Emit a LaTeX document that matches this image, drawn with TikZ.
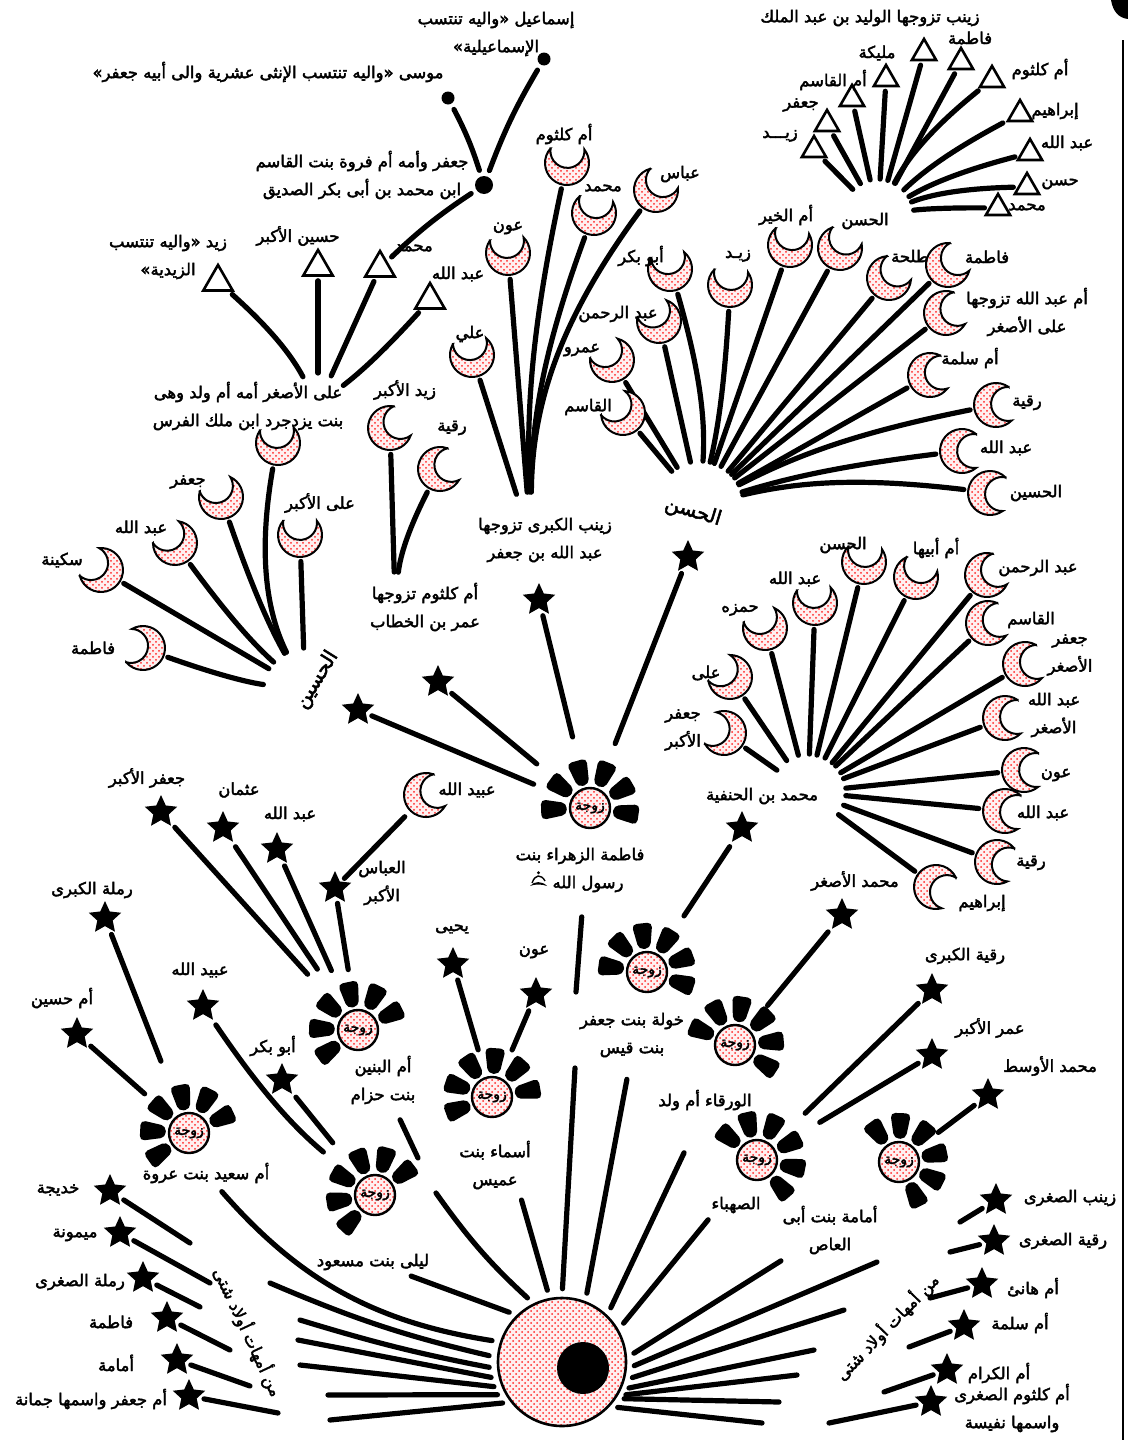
\documentclass[tikz,border=0pt]{standalone}
\usepackage{fontspec}
\newfontfamily\arfont[Script=Arabic, FakeBold=2.5]{DejaVu Sans}
\usetikzlibrary{shapes.geometric,patterns,positioning}
\TeXXeTstate=1
\pgfdeclarelayer{stems}
\pgfsetlayers{stems,main}

\newcommand\nl{\endR\\\beginR}
\newcommand\moonkid[5]{% name, place, horn angle, label place, label
  \node[kid] (#1) at (#2) {};
  \pic[rotate=#3] at (#1) {crescent};
  \node[lbl] (#1-l) at (#4) {#5};}
\newcommand\starkid[4]{% name, place, label place, label
  \node[starkid] (#1) at (#2) {};
  \node[lbl] (#1-l) at (#3) {#4};}
\newcommand\trikid[5][]{% [size], name, place, label place, label
  \node[trikid,#1] (#2) at (#3) {};
  \node[lbl] (#2-l) at (#4) {#5};}
\newcommand\wifenode[5]{% name, place, petal turn, label place, label
  \node[wife] (#1) at (#2) {زوجة};
  \pic[rotate=#3] at (#1) {petals};
  \node[lbl] (#1-l) at (#4) {#5};}

\begin{document}
\begin{tikzpicture}[x=0.5pt, y=-0.5pt,
  lbl/.style={font=\arfont\fontsize{8.2}{14}\selectfont, align=center, inner sep=1pt,
    execute at begin node=\beginR, execute at end node=\endR},
  hubtext/.style={lbl, font=\arfont\fontsize{10}{12}\selectfont},
  stem/.style={line width=2.6pt, line cap=round},
  dotfill/.style={preaction={fill=red!6}, preaction={pattern=crosshatch dots, pattern color=red!85}},
  kid/.style={circle, minimum size=24pt, inner sep=0pt},
  starkid/.style={star, star points=5, star point ratio=2.1, fill, minimum size=17pt, inner sep=0pt},
  trikid/.style={regular polygon, regular polygon sides=3, draw, line width=1.3pt, minimum size=14pt, inner sep=0pt},
  dotkid/.style={circle, fill, inner sep=0pt, minimum size=#1},
  wife/.style={circle, draw, line width=1.2pt, minimum size=20pt, inner sep=0pt, dotfill,
    font=\arfont\fontsize{7}{7}\selectfont},
  alinode/.style={circle, draw, line width=1.3pt, minimum size=64pt, inner sep=0pt, dotfill},
  crescent/.pic={\path[draw, line width=1pt, dotfill] (50:11pt)
      arc[start angle=50, end angle=310, radius=11pt]
      arc[start angle=-83.1, end angle=-276.9, radius=8.5pt] -- cycle;},
  petals/.pic={\fill[rounded corners=2.5pt]
      (-19:12pt) -- (-17:25pt) -- (7:25pt) -- (9:12pt) -- cycle
      (19:12pt) -- (21:25pt) -- (45:25pt) -- (47:12pt) -- cycle
      (57:12pt) -- (59:25pt) -- (83:25pt) -- (85:12pt) -- cycle
      (95:12pt) -- (97:25pt) -- (121:25pt) -- (123:12pt) -- cycle
      (133:12pt) -- (135:25pt) -- (159:25pt) -- (161:12pt) -- cycle
      (171:12pt) -- (173:25pt) -- (197:25pt) -- (199:12pt) -- cycle;}
  ]
\useasboundingbox (0,0) rectangle (1128,1440);

% page edge
\draw[line width=1.2pt] (1123,40) -- (1123,1440);
\fill (1111,0) .. controls (1113,12) and (1119,18) .. (1128,19) -- (1128,0) -- cycle;

% Ali and his wives
\node[alinode] (ali) at (562,1362) {};
\node[dotkid=26pt] (ali-dot) at (583,1368) {};
\wifenode{fatima}{590,808}{-3}{580,856}{فاطمة الزهراء بنت}
\node[lbl] (fatima-l2) at (588,884) {رسول الله};
\begin{scope}[shift={(fatima-l2.west)}] % drawn salla sign, which no font here has
  \fill (-10pt,-1pt) .. controls (-8pt,1.6pt) and (-4pt,1.6pt) .. (-1.5pt,-1pt)
    .. controls (-4pt,0pt) and (-8pt,0pt) .. cycle;
  \draw[line width=0.7pt] (-9pt,0.5pt) .. controls (-7.5pt,5pt) and (-4.5pt,5pt) .. (-2.5pt,1.5pt);
  \fill (-5.8pt,5.6pt) circle (0.8pt);
\end{scope}
\wifenode{khawla}{647,972}{-13}{632,1035}{خولة بنت جعفر\nl بنت قيس}
\wifenode{banin}{358,1030}{31}{383,1080}{أم البنين\nl بنت حزام}
\wifenode{asma}{492,1097}{15}{495,1165}{أسماء بنت\nl عميس}
\wifenode{layla}{375,1195}{42}{373,1262}{ليلى بنت مسعود}
\wifenode{saeed}{189,1133}{30}{206,1173}{أم سعيد بنت عروة}
\wifenode{warqa}{735,1045}{-28}{705,1100}{الورقاء أم ولد}
\wifenode{sahba}{757,1160}{-44}{736,1205}{الصهباء}
\wifenode{umama}{899,1162}{-59}{830,1230}{أمامة بنت أبى\nl العاص}

% children of Fatima
\node[starkid] (husain) at (358,710) {};
\node[starkid] (hasan) at (688,557) {};
\starkid{kulthum}{438,682}{425,607}{أم كلثوم تزوجها\nl عمر بن الخطاب}
\starkid{zaynab}{539,600}{545,540}{زينب الكبرى تزوجها\nl عبد الله بن جعفر}
\node[hubtext, rotate=58] (husain-l) at (317,680) {الحسين};
\node[hubtext, rotate=-17] (hasan-l) at (693,512) {الحسن};
\coordinate (hasan-h) at (700,505);
\coordinate (husain-h) at (305,690);
\coordinate (zaynab-h) at (531,540);
\coordinate (kulthum-h) at (395,600);
\coordinate (zayn-h) at (318,405);
\coordinate (hh-h) at (878,215);
\coordinate (hanaf-h) at (808,792);

% al-Hasan's children
\moonkid{hn-qasim}{623,413}{135}{588,407}{القاسم}
\moonkid{hn-amr}{612,360}{125}{582,350}{عمرو}
\moonkid{hn-abdrahman}{659,321}{120}{618,314}{عبد الرحمن}
\moonkid{hn-abubakr}{670,269}{100}{641,256}{أبو بكر}
\moonkid{hn-zayd}{730,285}{85}{738,256}{زيـد}
\moonkid{hn-umkhayr}{790,245}{80}{786,215}{أم الخير}
\moonkid{hn-hasan}{840,248}{60}{865,221}{الحسن}
\moonkid{hn-talha}{889,278}{45}{910,256}{طلحة}
\moonkid{hn-fatima}{948,265}{35}{987,257}{فاطمة}
\moonkid{hn-umabdallah}{946,313}{20}{1027,312}{أم عبد الله تزوجها\nl على الأصغر}
\moonkid{hn-salama}{930,375}{12}{970,358}{أم سلمة}
\moonkid{hn-ruqayya}{996,405}{5}{1027,403}{رقية}
\moonkid{hn-abdallah}{962,451}{0}{1006,448}{عبد الله}
\moonkid{hn-husain}{990,493}{-5}{1036,493}{الحسين}

% al-Hasan son of al-Hasan
\trikid{hh-zayd}{814,150}{780,136}{زيـــد}
\trikid{hh-jafar}{827,124}{801,105}{جعفر}
\trikid{hh-qasim}{852,99}{833,80}{أم القاسم}
\trikid{hh-malika}{886,79}{877,53}{مليكة}
\trikid{hh-zaynab}{924,53}{870,18}{زينب تزوجها الوليد بن عبد الملك}
\trikid{hh-fatima}{961,62}{970,38}{فاطمة}
\trikid{hh-kulthum}{992,80}{1040,69}{أم كلثوم}
\trikid{hh-ibrahim}{1020,114}{1055,111}{إبراهيم}
\trikid{hh-abdallah}{1030,153}{1067,143}{عبد الله}
\trikid{hh-hasan}{1027,187}{1060,184}{حسن}
\trikid{hh-muhammad}{998,208}{1027,207}{محمد}

% Zaynab's children
\moonkid{zb-ali}{472,355}{100}{470,334}{علي}
\moonkid{zb-awn}{508,253}{95}{508,228}{عون}
\moonkid{zb-kulthum}{567,163}{88}{564,134}{أم كلثوم}
\moonkid{zb-muhammad}{594,213}{80}{603,188}{محمد}
\moonkid{zb-abbas}{656,190}{55}{680,174}{عباس}

% Umm Kulthum's children
\moonkid{uk-zayd}{390,428}{30}{405,390}{زيد الأكبر}
\moonkid{uk-ruqayya}{440,469}{20}{452,428}{رقية}

% al-Husain's children
\moonkid{hs-fatima}{143,648}{170}{93,648}{فاطمة}
\moonkid{hs-sakina}{101,570}{145}{62,560}{سكينة}
\moonkid{hs-abdallah}{175,543}{130}{141,528}{عبد الله}
\moonkid{hs-jafar}{221,497}{115}{188,482}{جعفر}
\moonkid{hs-aliasghar}{278,443}{95}{248,406}{على الأصغر أمه أم ولد وهى\nl بنت يزدجرد ابن ملك الفرس}
\moonkid{hs-aliakbar}{300,535}{90}{320,503}{على الأكبر}

% Ali al-Asghar's children
\trikid[minimum size=17pt]{zn-zayd}{218,282}{168,257}{زيد «واليه تنتسب\nl الزيدية»}
\trikid[minimum size=17pt]{zn-husain}{318,267}{298,236}{حسين الأكبر}
\trikid[minimum size=17pt]{zn-muhammad}{380,268}{414,248}{محمد}
\trikid[minimum size=17pt]{zn-abdallah}{430,300}{458,274}{عبد الله}
\node[dotkid=9pt] (jafar) at (484,185) {};
\node[dotkid=6.5pt] (musa) at (448,98) {};
\node[dotkid=6.5pt] (ismail) at (544,59) {};
\node[lbl] (jafar-l) at (362,175) {جعفر وأمه أم فروة بنت القاسم\nl ابن محمد بن أبى بكر الصديق};
\node[lbl] (musa-l) at (268,72) {موسى «واليه تنتسب الإنثى عشرية والى أبيه جعفر»};
\node[lbl] (ismail-l) at (496,34) {إسماعيل «واليه تنتسب\nl الإسماعيلية»};

% Muhammad ibn al-Hanafiyya
\starkid{hanafiyya}{742,828}{762,796}{محمد بن الحنفية}
\moonkid{mh-ali}{730,677}{140}{706,673}{على}
\moonkid{mh-jafar}{724,733}{160}{683,730}{جعفر\nl الأكبر}
\moonkid{mh-hamza}{765,628}{115}{740,610}{حمزه}
\moonkid{mh-abdallah}{815,603}{95}{795,579}{عبد الله}
\moonkid{mh-hasan}{864,562}{85}{843,545}{الحسن}
\moonkid{mh-umabiha}{916,577}{65}{936,548}{أم أبيها}
\moonkid{mh-abdrahman}{987,575}{25}{1038,568}{عبد الرحمن}
\moonkid{mh-qasim}{988,623}{15}{1031,620}{القاسم}
\moonkid{mh-jafarasghar}{1025,664}{10}{1070,655}{جعفر\nl الأصغر}
\moonkid{mh-abdallahasghar}{1005,718}{5}{1054,715}{عبد الله\nl الأصغر}
\moonkid{mh-awn}{1024,770}{0}{1056,775}{عون}
\moonkid{mh-abdallah2}{1005,811}{-5}{1043,813}{عبد الله}
\moonkid{mh-ruqayya}{997,862}{-12}{1031,863}{رقية}
\moonkid{mh-ibrahim}{936,887}{-25}{982,903}{إبراهيم}

% children of the other wives
\starkid{jafarak}{161,812}{147,778}{جعفر الأكبر}
\starkid{uthman}{223,828}{239,790}{عثمان}
\starkid{abdallahb}{277,849}{290,814}{عبد الله}
\starkid{abbas}{335,888}{382,883}{العباس\nl الأكبر}
\moonkid{ubaydallah}{426,795}{20}{467,790}{عبيد الله}
\starkid{yahya}{453,964}{452,929}{يحيى}
\starkid{awn}{536,994}{534,952}{عون}
\starkid{ubaydallahl}{203,1006}{200,970}{عبيد الله}
\starkid{abubakr}{282,1080}{273,1046}{أبو بكر}
\starkid{ramlak}{105,918}{92,890}{رملة الكبرى}
\starkid{umhusain}{77,1034}{62,998}{أم حسين}
\starkid{asghar}{842,915}{855,881}{محمد الأصغر}
\starkid{ruqayyak}{932,990}{965,956}{رقية الكبرى}
\starkid{umark}{932,1055}{990,1028}{عمر الأكبر}
\starkid{awsat}{988,1095}{1050,1066}{محمد الأوسط}

% children of various mothers
\starkid{khadija}{110,1191}{58,1190}{خديجة}
\starkid{maymuna}{120,1233}{75,1235}{ميمونة}
\starkid{ramlas}{143,1278}{80,1282}{رملة الصغرى}
\starkid{fatimau}{167,1318}{111,1322}{فاطمة}
\starkid{umamau}{177,1360}{116,1363}{أمامة}
\starkid{jumana}{189,1396}{91,1399}{أم جعفر واسمها جمانة}
\node[lbl, rotate=-65] (awlad-l) at (248,1332) {من أمهات أولاد شتى};
\starkid{zaynabs}{996,1200}{1070,1198}{زينب الصغرى}
\starkid{ruqayyas}{994,1241}{1063,1241}{رقية الصغرى}
\starkid{hani}{982,1284}{1033,1288}{أم هانئ}
\starkid{salama}{964,1326}{1020,1323}{أم سلمة}
\starkid{kiram}{947,1370}{999,1373}{أم الكرام}
\starkid{nafisa}{931,1402}{1012,1408}{أم كلثوم الصغرى\nl واسمها نفيسة}
\node[lbl, rotate=46] (awlad-r) at (887,1327) {من أمهات أولاد شتى};

% gaps in the long stems
\coordinate (fatima-a) at (576,992);   \coordinate (fatima-b) at (575,1068);
\coordinate (banin-a) at (418,1158);   \coordinate (banin-b) at (436,1193);
\coordinate (khadija-a) at (190,1243); \coordinate (khadija-b) at (270,1283);
\coordinate (maymuna-a) at (210,1283); \coordinate (maymuna-b) at (300,1320);
\coordinate (ramlas-a) at (200,1307);  \coordinate (ramlas-b) at (298,1340);
\coordinate (fatimau-a) at (230,1350); \coordinate (fatimau-b) at (300,1365);
\coordinate (umamau-a) at (250,1386);  \coordinate (umamau-b) at (328,1395);
\coordinate (jumana-a) at (278,1413);  \coordinate (jumana-b) at (330,1420);
\coordinate (zaynabs-a) at (960,1222); \coordinate (zaynabs-b) at (877,1262);
\coordinate (ruqayyas-a) at (950,1252); \coordinate (ruqayyas-b) at (844,1310);
\coordinate (hani-a) at (930,1298);    \coordinate (hani-b) at (814,1350);
\coordinate (salama-a) at (909,1347);  \coordinate (salama-b) at (797,1375);
\coordinate (kiram-a) at (884,1392);   \coordinate (kiram-b) at (779,1402);
\coordinate (nafisa-a) at (829,1423);  \coordinate (nafisa-b) at (762,1423);

\begin{pgfonlayer}{stems}
% Ali to his wives
\path[stem, shorten <=4pt]
  (ali.90) edge (fatima-b)
  (ali.69) edge[shorten >=44pt] (khawla)
  (ali.46) edge[shorten >=49pt] (warqa)
  (ali.30) edge[shorten >=28pt] (sahba)
  (ali.4) edge[shorten >=4pt] (umama-l)
  (ali.101) edge[shorten >=43pt] (asma)
  (ali.116) edge[bend left=6] (banin-b)
  (ali.134) edge[shorten >=5pt] (layla-l)
  (ali.162) edge[bend left=20, shorten >=4pt] (saeed-l);
\path[stem]
  (fatima-a) edge[shorten >=44pt] (fatima)
  (banin-a) edge[shorten >=39pt] (banin);

% children to their mothers
\path[stem, shorten <=3pt]
  (husain) edge[shorten >=20pt] (fatima)
  (kulthum) edge[shorten >=24pt] (fatima)
  (zaynab) edge[shorten >=26pt] (fatima)
  (hasan) edge[shorten >=24pt] (fatima)
  (hanafiyya) edge[shorten >=23pt] (khawla)
  (asghar) edge[shorten >=15pt] (warqa)
  (ruqayyak) edge[shorten >=23pt] (sahba)
  (umark) edge[shorten >=26pt] (sahba)
  (awsat) edge[shorten >=14pt] (umama)
  (jafarak) edge[shorten >=27pt] (banin)
  (uthman) edge[shorten >=26pt] (banin)
  (abdallahb) edge[shorten >=22pt] (banin)
  (abbas) edge[shorten >=20pt] (banin)
  (ubaydallah) edge[shorten >=2pt] (abbas)
  (yahya) edge[shorten >=14pt] (asma)
  (awn) edge[shorten >=15pt] (asma)
  (ubaydallahl) edge[bend right=8, shorten >=23pt] (layla)
  (abubakr) edge[shorten >=23pt] (layla)
  (ramlak) edge[shorten >=28pt] (saeed)
  (umhusain) edge[shorten >=19pt] (saeed);

% children of various mothers
\path[stem, shorten <=3pt]
  (khadija) edge (khadija-a) (maymuna) edge (maymuna-a)
  (ramlas) edge (ramlas-a) (fatimau) edge (fatimau-a)
  (umamau) edge (umamau-a) (jumana) edge (jumana-a)
  (zaynabs) edge (zaynabs-a) (ruqayyas) edge (ruqayyas-a)
  (hani) edge (hani-a) (salama) edge (salama-a)
  (kiram) edge (kiram-a) (nafisa) edge (nafisa-a);
\path[stem, shorten >=4pt]
  (khadija-b) edge[bend right=5] (ali.176)
  (maymuna-b) edge[bend right=3] (ali.186)
  (ramlas-b) edge (ali.195)
  (fatimau-b) edge (ali.203)
  (umamau-b) edge (ali.210)
  (jumana-b) edge (ali.218)
  (zaynabs-b) edge (ali.354)
  (ruqayyas-b) edge (ali.344)
  (hani-b) edge (ali.335)
  (salama-b) edge (ali.329)
  (kiram-b) edge (ali.326)
  (nafisa-b) edge (ali.317);

% grandchildren
\path[stem, shorten <=1pt, shorten >=22pt]
  (hn-qasim) edge (hasan-h) (hn-amr) edge (hasan-h)
  (hn-abdrahman) edge (hasan-h) (hn-abubakr) edge[bend left=10] (hasan-h)
  (hn-zayd) edge[bend left=5] (hasan-h) (hn-umkhayr) edge (hasan-h)
  (hn-hasan) edge (hasan-h) (hn-talha) edge (hasan-h)
  (hn-fatima) edge (hasan-h) (hn-umabdallah) edge (hasan-h)
  (hn-salama) edge (hasan-h) (hn-ruqayya) edge[bend right=8] (hasan-h)
  (hn-abdallah) edge[bend right=5] (hasan-h) (hn-husain) edge[bend right=10] (hasan-h);
\path[stem, shorten <=2pt, shorten >=18pt]
  (hh-zayd) edge (hh-h) (hh-jafar) edge (hh-h)
  (hh-qasim) edge (hh-h) (hh-malika) edge (hh-h)
  (hh-zaynab) edge (hh-h) (hh-fatima) edge (hh-h)
  (hh-kulthum) edge[bend right=12] (hh-h) (hh-ibrahim) edge[bend right=8] (hh-h)
  (hh-abdallah) edge[bend right=8] (hh-h) (hh-hasan) edge[bend right=10] (hh-h)
  (hh-muhammad) edge[bend right=4] (hh-h);
\path[stem, shorten <=1pt, shorten >=24pt]
  (zb-ali) edge (zaynab-h) (zb-awn) edge (zaynab-h)
  (zb-kulthum) edge[bend right=7] (zaynab-h) (zb-muhammad) edge[bend right=10] (zaynab-h)
  (zb-abbas) edge[bend right=18] (zaynab-h);
\path[stem, shorten <=1pt, shorten >=14pt]
  (uk-zayd) edge (kulthum-h) (uk-ruqayya) edge[bend right=10] (kulthum-h);
\path[stem, shorten <=1pt, shorten >=21pt]
  (hs-fatima) edge[bend right=6] (husain-h) (hs-sakina) edge (husain-h)
  (hs-abdallah) edge[bend right=6] (husain-h) (hs-jafar) edge[bend right=5] (husain-h)
  (hs-aliasghar) edge[bend right=18] (husain-h) (hs-aliakbar) edge (husain-h);
\path[stem, shorten <=2pt, shorten >=16pt]
  (zn-zayd) edge[bend left=10] (zayn-h) (zn-husain) edge (zayn-h)
  (zn-muhammad) edge (zayn-h) (zn-abdallah) edge[bend left=5] (zayn-h);
\path[stem, shorten <=3pt, shorten >=3pt]
  (zn-muhammad) edge[bend left=5] (jafar)
  (jafar) edge[bend right=5] (musa)
  (jafar) edge[bend left=5] (ismail);
\path[stem, shorten <=1pt, shorten >=19pt]
  (mh-ali) edge (hanaf-h) (mh-jafar) edge (hanaf-h)
  (mh-hamza) edge (hanaf-h) (mh-abdallah) edge (hanaf-h)
  (mh-hasan) edge (hanaf-h) (mh-umabiha) edge (hanaf-h)
  (mh-abdrahman) edge (hanaf-h) (mh-qasim) edge (hanaf-h)
  (mh-jafarasghar) edge (hanaf-h) (mh-abdallahasghar) edge (hanaf-h)
  (mh-awn) edge (hanaf-h) (mh-abdallah2) edge (hanaf-h)
  (mh-ruqayya) edge (hanaf-h) (mh-ibrahim) edge (hanaf-h);
\end{pgfonlayer}
\end{tikzpicture}
\end{document}
